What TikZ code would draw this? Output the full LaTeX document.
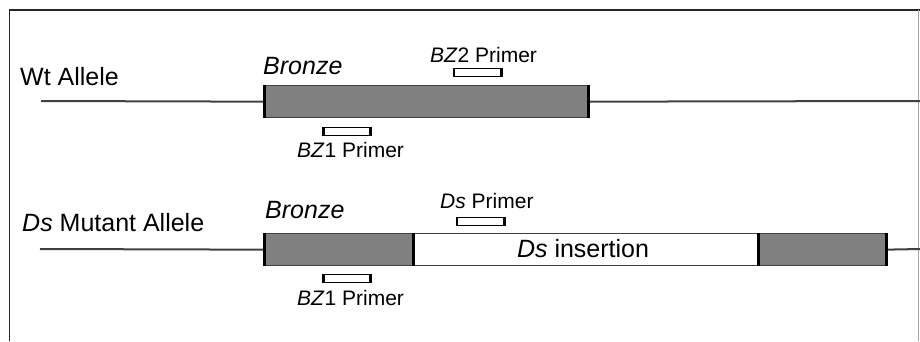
\documentclass[tikz,border=0pt]{standalone}
\usepackage{fontspec}
\setmainfont{Liberation Sans}
\begin{document}
\begin{tikzpicture}[x=1pt,y=-1pt,
  big/.style={font=\fontsize{25}{30}\selectfont, inner sep=0pt, anchor=base west},
  small/.style={font=\fontsize{21}{25}\selectfont, inner sep=0pt, anchor=base west},
  chrom/.style={draw=black!75, line width=2pt},
  genebox/.style={fill=black!50, draw=black!75, line width=1.3pt, inner sep=0pt, anchor=north west},
  insbox/.style={fill=white, draw=black!75, line width=1.3pt, inner sep=0pt, anchor=north west},
  primerbox/.style={fill=white, draw=black, line width=1.3pt, inner sep=0pt, anchor=north west, minimum width=46pt, minimum height=8pt},
  sideedge/.style={draw=black, line width=3pt},
  frameline/.style={draw=black!85, line width=1.5pt}
]
\useasboundingbox (0,0) rectangle (920,341);
% frame
\draw[frameline] (9.5,341) -- (9.5,10) -- (920,10);
\draw[draw=black!35, line width=1.2pt] (918.5,10) -- (918.5,341);

% ---- Wild type allele ----
\node[big] (wtlab) at (20,85) {Wt Allele};
\node[genebox, minimum width=323pt, minimum height=32pt] (wtg) at (264,85) {};
\coordinate (wtL) at (41,101);
\coordinate (wtR) at (920,101);
\draw[chrom] (wtL) -- (wtg.west);
\draw[chrom] (wtg.east) -- (wtR);
\draw[sideedge] (wtg.north west) -- (wtg.south west);
\draw[sideedge] (wtg.north east) -- (wtg.south east);
\node[big] (wtbr) at (263,74) {\itshape Bronze};
\node[primerbox] (bz2) at (454,68) {};
\draw[sideedge, line width=2.5pt] (bz2.north west) -- (bz2.south west);
\draw[sideedge] (bz2.north east) -- (bz2.south east);
\node[small] (bz2lab) at (430,62) {\textit{BZ}2 Primer};
\node[primerbox] (bz1a) at (323,126.5) {};
\draw[sideedge] (bz1a.north west) -- (bz1a.south west);
\draw[sideedge] (bz1a.north east) -- (bz1a.south east);
\node[small] (bz1alab) at (297,157) {\textit{BZ}1 Primer};

% ---- Ds mutant allele ----
\node[big] (dslab) at (22,231) {\textit{Ds} Mutant Allele};
\node[genebox, minimum width=148pt, minimum height=32pt] (dsg1) at (264,233) {};
\node[insbox, minimum width=346pt, minimum height=32pt] (ins) at (412,233) {};
\node[genebox, minimum width=127pt, minimum height=32pt] (dsg2) at (758,233) {};
\coordinate (dsL) at (40,249);
\coordinate (dsR) at (920,249);
\draw[chrom] (dsL) -- (dsg1.west);
\draw[chrom] (dsg2.east) -- (dsR);
\draw[sideedge] (dsg1.north west) -- (dsg1.south west);
\draw[sideedge] (dsg1.north east) -- (dsg1.south east);
\draw[sideedge] (dsg2.north west) -- (dsg2.south west);
\draw[sideedge] (dsg2.north east) -- (dsg2.south east);
\node[big, anchor=base] (inslab) at (583,257) {\textit{Ds} insertion};
\node[big] (dsbr) at (265,218) {\itshape Bronze};
\node[primerbox] (dsp) at (457,216.5) {};
\draw[sideedge, line width=2pt] (dsp.north west) -- (dsp.south west);
\draw[sideedge] (dsp.north east) -- (dsp.south east);
\node[small] (dsplab) at (440,208) {\textit{Ds} Primer};
\node[primerbox] (bz1b) at (323,274) {};
\draw[sideedge] (bz1b.north west) -- (bz1b.south west);
\draw[sideedge] (bz1b.north east) -- (bz1b.south east);
\node[small] (bz1blab) at (297,305) {\textit{BZ}1 Primer};
\end{tikzpicture}
\end{document}
